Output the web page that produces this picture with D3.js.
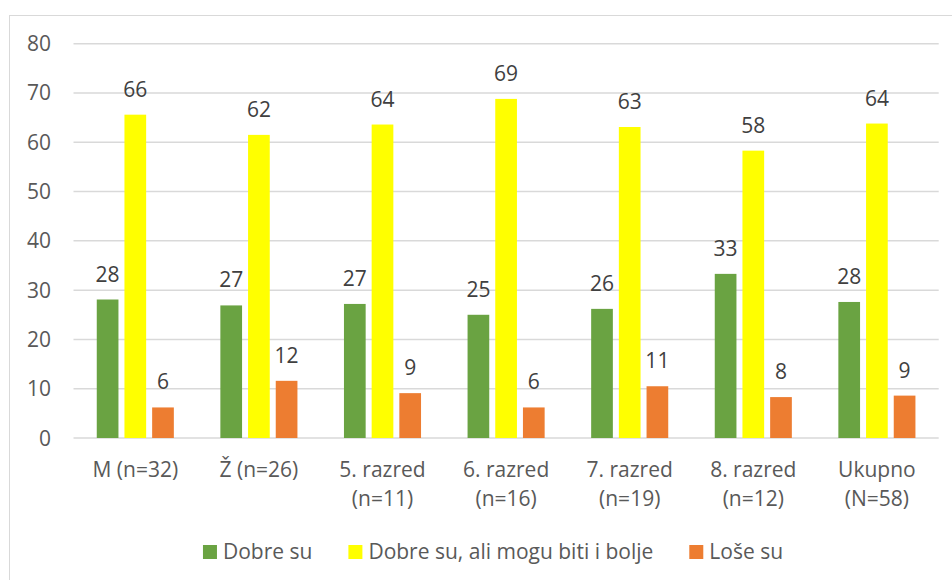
<!DOCTYPE html>
<html>
<head>
  <meta charset="utf-8">
  <script src="https://cdn.jsdelivr.net/npm/d3@7"></script>
  <style>
    body { margin: 0; background: #fff; }
    text { font-family: "Open Sans", sans-serif; }
  </style>
</head>
<body>
  <svg id="chart" width="952" height="580"></svg>
  <script>
    const categories = [["M (n=32)"], ["Ž (n=26)"], ["5. razred", "(n=11)"], ["6. razred", "(n=16)"],
                        ["7. razred", "(n=19)"], ["8. razred", "(n=12)"], ["Ukupno", "(N=58)"]]
    const seriesNames = ["Dobre su", "Dobre su, ali mogu biti i bolje", "Loše su"]
    const seriesColors = ["#6aa342", "#ffff00", "#ed7d31"]
    const dobre = [28.1, 26.9, 27.2, 25.0, 26.2, 33.3, 27.6]
    const boljeMogu = [65.6, 61.5, 63.6, 68.8, 63.1, 58.3, 63.8]
    const lose = [6.2, 11.6, 9.1, 6.2, 10.5, 8.3, 8.6]
    const yTicks = [0, 10, 20, 30, 40, 50, 60, 70, 80]

    const values = [dobre, boljeMogu, lose]
    const fontSize = 21
    const svg = d3.select("#chart")

    // chart frame
    svg.append("rect")
       .attr("x", 9.5).attr("y", 15.5)
       .attr("width", 1200).attr("height", 1200)
       .attr("fill", "none").attr("stroke", "#d9d9d9")

    const plot = { left: 73.5, right: 938.7, top: 43.7, bottom: 438 }

    const x0 = d3.scaleBand()
                 .domain(d3.range(categories.length))
                 .range([plot.left, plot.right])

    const x1 = d3.scaleBand()
                 .domain(d3.range(seriesNames.length))
                 .range([0, x0.bandwidth()])
                 .paddingInner(0.2166)
                 .paddingOuter(0.84)

    const y = d3.scaleLinear()
                .domain([0, 80])
                .range([plot.bottom, plot.top])

    // gridlines
    svg.append("g")
       .selectAll("line")
       .data(yTicks)
       .join("line")
       .attr("x1", plot.left).attr("x2", plot.right)
       .attr("y1", d => y(d)).attr("y2", d => y(d))
       .attr("stroke", "#d9d9d9")
       .attr("stroke-width", 1.5)

    // y tick labels
    svg.append("g")
       .selectAll("text")
       .data(yTicks)
       .join("text")
       .attr("x", 51)
       .attr("y", d => y(d) + 7.5)
       .attr("text-anchor", "end")
       .attr("font-size", fontSize)
       .attr("fill", "#595959")
       .text(d => d)

    // bars
    const groups = svg.append("g")
                      .selectAll("g")
                      .data(categories)
                      .join("g")
                      .attr("transform", (d, i) => `translate(${x0(i)},0)`)

    const cells = groups.selectAll("g")
                        .data((d, i) => values.map((s, k) => ({ k: k, v: s[i] })))
                        .join("g")

    cells.append("rect")
         .attr("x", d => x1(d.k))
         .attr("width", x1.bandwidth())
         .attr("y", d => y(d.v))
         .attr("height", d => y(0) - y(d.v))
         .attr("fill", d => seriesColors[d.k])

    cells.append("text")
         .attr("x", d => x1(d.k) + x1.bandwidth() / 2)
         .attr("y", d => y(d.v) - 18)
         .attr("text-anchor", "middle")
         .attr("font-size", fontSize)
         .attr("fill", "#404040")
         .text(d => Math.round(d.v))

    // category labels
    svg.append("g")
       .selectAll("text")
       .data(categories)
       .join("text")
       .attr("x", (d, i) => x0(i) + x0.bandwidth() / 2)
       .attr("y", 477)
       .attr("text-anchor", "middle")
       .attr("font-size", fontSize)
       .attr("fill", "#595959")
       .selectAll("tspan")
       .data(d => d)
       .join("tspan")
       .attr("x", function() { return this.parentNode.getAttribute("x") })
       .attr("dy", (d, j) => j === 0 ? 0 : 29)
       .text(d => d)

    // legend
    const legend = svg.append("g")
    let lx = 0
    seriesNames.forEach((name, k) => {
      const item = legend.append("g").attr("transform", `translate(${lx},0)`)
      item.append("rect")
          .attr("x", 0).attr("y", 545)
          .attr("width", 14).attr("height", 14)
          .attr("fill", seriesColors[k])
      const t = item.append("text")
                    .attr("x", 20).attr("y", 558.5)
                    .attr("font-size", fontSize)
                    .attr("fill", "#595959")
                    .text(name)
      lx += 20 + t.node().getComputedTextLength() + 36
    })
    const legendWidth = lx - 36
    legend.attr("transform", `translate(${493 - legendWidth / 2},0)`)
  </script>
</body>
</html>
